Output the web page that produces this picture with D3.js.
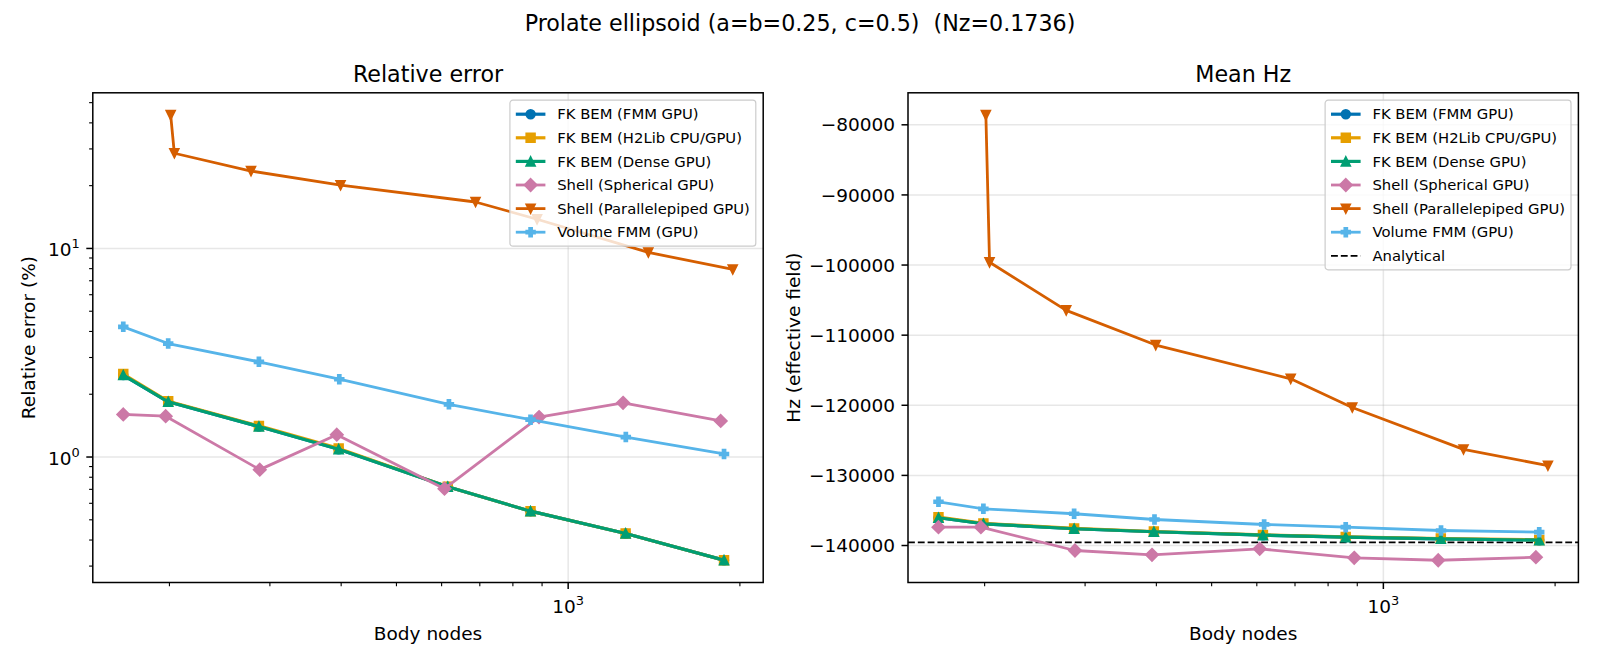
<!DOCTYPE html>
<html>
<head>
<meta charset="utf-8">
<script src="https://cdn.jsdelivr.net/npm/d3@7"></script>
<style>
  body { margin: 0; background: #fff; }
  svg { display: block; font-family: "DejaVu Sans", sans-serif; }
  text { white-space: pre; }
</style>
</head>
<body>
<div id="chart"></div>
<script>
// Node counts per method
const fkNodes = [166, 199, 287, 396, 615, 859, 1261, 1876];
const sphNodes = [166, 197, 288, 393, 607, 889, 1248, 1851];
const parNodes = [201, 204, 278, 399, 688, 882, 1382, 1943];
const volNodes = [166, 199, 287, 397, 618, 859, 1262, 1876];

// Relative error (%)
const fkFmmErr = [2.47, 1.84, 1.40, 1.09, 0.72, 0.55, 0.43, 0.32];
const fkH2Err = [2.50, 1.85, 1.41, 1.10, 0.72, 0.55, 0.43, 0.32];
const fkDenseErr = [2.47, 1.84, 1.40, 1.09, 0.72, 0.55, 0.43, 0.32];
const sphErr = [1.60, 1.57, 0.87, 1.28, 0.705, 1.555, 1.82, 1.49];
const parErr = [43.6, 28.6, 23.5, 20.1, 16.7, 13.8, 9.57, 7.93];
const volErr = [4.21, 3.50, 2.86, 2.36, 1.79, 1.51, 1.247, 1.034];

// Mean Hz (effective field)
const fkFmmHz = [-136040, -136900, -137610, -138040, -138530, -138810, -139040, -139240];
const fkH2Hz = [-135950, -136850, -137560, -138000, -138480, -138770, -139000, -139200];
const fkDenseHz = [-136040, -136900, -137610, -138040, -138530, -138810, -139040, -139240];
const sphHz = [-137390, -137390, -140710, -141330, -140470, -141760, -142100, -141670];
const parHz = [-78610, -99610, -106460, -111410, -116230, -120310, -126290, -128610];
const volHz = [-133760, -134760, -135470, -136290, -137000, -137390, -137860, -138100];
const analyticalHz = -139550;

const seriesNames = ['FK BEM (FMM GPU)', 'FK BEM (H2Lib CPU/GPU)', 'FK BEM (Dense GPU)',
  'Shell (Spherical GPU)', 'Shell (Parallelepiped GPU)', 'Volume FMM (GPU)'];
const seriesColors = ['#0072B2', '#E69F00', '#009E73', '#CC79A7', '#D55E00', '#56B4E9'];
const seriesMarkers = ['o', 's', '^', 'D', 'v', 'P'];
const seriesNodes = [fkNodes, fkNodes, fkNodes, sphNodes, parNodes, volNodes];
const seriesErr = [fkFmmErr, fkH2Err, fkDenseErr, sphErr, parErr, volErr];
const seriesHz = [fkFmmHz, fkH2Hz, fkDenseHz, sphHz, parHz, volHz];
const seriesWidth = [3.2, 3.2, 3.2, 2.8, 2.8, 2.8];

const hzTicks = [-80000, -90000, -100000, -110000, -120000, -130000, -140000];

const W = 1600, H = 667;
const svg = d3.select('#chart').append('svg').attr('width', W).attr('height', H);

const axTop = 92.8, axBottom = 582.5, axW = 670.4;
const panelX = [92.8, 908];
const tickFont = 18.5, legendFont = 14.8, markSize = 8.6;

function logPad(ext) {
  const a = Math.log10(ext[0]), b = Math.log10(ext[1]), m = (b - a) * 0.05;
  return [Math.pow(10, a - m), Math.pow(10, b + m)];
}
function linPad(ext) {
  const m = (ext[1] - ext[0]) * 0.05;
  return [ext[0] - m, ext[1] + m];
}

function markerPath(type, s) {
  const h = s / 2;
  if (type === 'o') return d3.symbol(d3.symbolCircle, Math.PI * h * h)();
  if (type === 's') return `M${-h},${-h}H${h}V${h}H${-h}Z`;
  if (type === '^') return `M0,${-h}L${h},${h}L${-h},${h}Z`;
  if (type === 'v') return `M0,${h}L${h},${-h}L${-h},${-h}Z`;
  if (type === 'D') { const d = h * Math.SQRT2; return `M0,${-d}L${d},0L0,${d}L${-d},0Z`; }
  // filled plus
  const a = s / 6;
  return `M${-a},${-h}H${a}V${-a}H${h}V${a}H${a}V${h}H${-a}V${a}H${-h}V${-a}H${-a}Z`;
}

const allNodes = [].concat(...seriesNodes);
const allErr = [].concat(...seriesErr);
const allHz = [].concat(...seriesHz);

// suptitle
svg.append('text').attr('x', 800).attr('y', 30.5).attr('text-anchor', 'middle')
  .attr('xml:space', 'preserve')
  .attr('font-size', 22.2).text('Prolate ellipsoid (a=b=0.25, c=0.5)  (Nz=0.1736)');

function drawPanel(p) {
  const x0 = panelX[p];
  const g = svg.append('g');
  const x = d3.scaleLog().domain(logPad(d3.extent(allNodes))).range([x0, x0 + axW]);
  const y = p === 0
    ? d3.scaleLog().domain(logPad(d3.extent(allErr))).range([axBottom, axTop])
    : d3.scaleLinear().domain(linPad(d3.extent(allHz))).range([axBottom, axTop]);

  const clipId = 'clip' + p;
  g.append('clipPath').attr('id', clipId).append('rect')
    .attr('x', x0).attr('y', axTop).attr('width', axW).attr('height', axBottom - axTop);

  // ticks
  const xMajor = [1000];
  const xMinor = [];
  [100, 1000].forEach(dec => { for (let k = 2; k <= 9; k++) xMinor.push(k * dec); });
  const xd = x.domain();
  const xMin = xMinor.filter(v => v >= xd[0] && v <= xd[1]);

  let yMajor, yMinor = [];
  if (p === 0) {
    yMajor = [1, 10];
    [0.1, 1, 10].forEach(dec => { for (let k = 2; k <= 9; k++) yMinor.push(k * dec); });
    const yd = y.domain();
    yMinor = yMinor.filter(v => v >= yd[0] && v <= yd[1]);
  } else {
    yMajor = hzTicks;
  }

  // grid
  const grid = g.append('g').attr('stroke', '#b0b0b0').attr('stroke-opacity', 0.3).attr('stroke-width', 1.5);
  xMajor.forEach(v => grid.append('line').attr('x1', x(v)).attr('x2', x(v)).attr('y1', axTop).attr('y2', axBottom));
  yMajor.forEach(v => grid.append('line').attr('x1', x0).attr('x2', x0 + axW).attr('y1', y(v)).attr('y2', y(v)));

  // analytical reference
  if (p === 1) {
    g.append('line').attr('x1', x0).attr('x2', x0 + axW)
      .attr('y1', y(analyticalHz)).attr('y2', y(analyticalHz))
      .attr('stroke', '#000').attr('stroke-width', 1.85).attr('stroke-dasharray', '6.85,2.96');
  }

  // series
  const plot = g.append('g').attr('clip-path', `url(#${clipId})`);
  seriesNames.forEach((name, i) => {
    const vals = p === 0 ? seriesErr[i] : seriesHz[i];
    const pts = seriesNodes[i].map((n, j) => [x(n), y(vals[j])]);
    plot.append('path').attr('d', d3.line()(pts)).attr('fill', 'none')
      .attr('stroke', seriesColors[i]).attr('stroke-width', seriesWidth[i])
      .attr('stroke-linejoin', 'round').attr('stroke-linecap', 'square');
    const mp = markerPath(seriesMarkers[i], markSize);
    pts.forEach(pt => plot.append('path').attr('d', mp)
      .attr('transform', `translate(${pt[0]},${pt[1]})`)
      .attr('fill', seriesColors[i]).attr('stroke', seriesColors[i]).attr('stroke-width', 1.85));
  });

  // spines
  g.append('rect').attr('x', x0).attr('y', axTop).attr('width', axW).attr('height', axBottom - axTop)
    .attr('fill', 'none').attr('stroke', '#000').attr('stroke-width', 1.5);

  // tick marks
  const tk = g.append('g').attr('stroke', '#000').attr('stroke-width', 1.5);
  xMajor.forEach(v => tk.append('line').attr('x1', x(v)).attr('x2', x(v)).attr('y1', axBottom).attr('y2', axBottom + 6.5));
  xMin.forEach(v => tk.append('line').attr('x1', x(v)).attr('x2', x(v)).attr('y1', axBottom).attr('y2', axBottom + 3.7).attr('stroke-width', 1.1));
  yMajor.forEach(v => tk.append('line').attr('x1', x0).attr('x2', x0 - 6.5).attr('y1', y(v)).attr('y2', y(v)));
  yMinor.forEach(v => tk.append('line').attr('x1', x0).attr('x2', x0 - 3.7).attr('y1', y(v)).attr('y2', y(v)).attr('stroke-width', 1.1));

  // x tick labels (10^3)
  xMajor.forEach(v => {
    const t = g.append('text').attr('x', x(v)).attr('y', 613).attr('text-anchor', 'middle').attr('font-size', tickFont);
    t.append('tspan').text('10');
    t.append('tspan').attr('dy', -8).attr('font-size', tickFont * 0.7).text(Math.round(Math.log10(v)));
  });

  // y tick labels
  yMajor.forEach(v => {
    const t = g.append('text').attr('x', x0 - 13).attr('y', y(v) + 8).attr('text-anchor', 'end').attr('font-size', tickFont);
    if (p === 0) {
      t.append('tspan').text('10');
      t.append('tspan').attr('dy', -8).attr('font-size', tickFont * 0.7).text(Math.round(Math.log10(v)));
    } else {
      t.attr('y', y(v) + 6.6).text(String(v).replace('-', '\u2212'));
    }
  });

  // titles and labels
  g.append('text').attr('x', x0 + axW / 2).attr('y', 82).attr('text-anchor', 'middle')
    .attr('font-size', 22.2).text(p === 0 ? 'Relative error' : 'Mean Hz');
  g.append('text').attr('x', x0 + axW / 2).attr('y', 640).attr('text-anchor', 'middle')
    .attr('font-size', tickFont).text('Body nodes');
  const ylx = p === 0 ? 35 : 800;
  g.append('text').attr('transform', `translate(${ylx},${(axTop + axBottom) / 2}) rotate(-90)`)
    .attr('text-anchor', 'middle').attr('font-size', tickFont)
    .text(p === 0 ? 'Relative error (%)' : 'Hz (effective field)');

  // legend
  const entries = seriesNames.map((n, i) => ({ name: n, color: seriesColors[i], marker: seriesMarkers[i], w: seriesWidth[i] }));
  if (p === 1) entries.push({ name: 'Analytical', color: '#000', marker: null, w: 1.85, dash: '6.85,2.96' });
  const pad = 5.9, rowH = 23.6, handleLen = 29.6, textPad = 11.8;
  const lg = g.append('g');
  const box = lg.append('rect');
  const items = lg.append('g');
  let maxW = 0;
  entries.forEach((e, i) => {
    const cy = pad + 8.1 + i * rowH;
    const t = items.append('text').attr('y', cy + 5.3).attr('font-size', legendFont).text(e.name);
    maxW = Math.max(maxW, t.node().getComputedTextLength());
  });
  const boxW = pad * 2 + handleLen + textPad + maxW;
  const boxH = pad * 2 + entries.length * 16.2 + (entries.length - 1) * 7.4;
  const bx = x0 + axW - 7.4 - boxW, by = axTop + 7.4;
  lg.attr('transform', `translate(${bx},${by})`);
  box.attr('width', boxW).attr('height', boxH).attr('rx', 3).attr('fill', '#fff').attr('fill-opacity', 0.8)
    .attr('stroke', '#cccccc').attr('stroke-width', 1.2);
  items.selectAll('text').attr('x', pad + handleLen + textPad);
  entries.forEach((e, i) => {
    const cy = pad + 8.1 + i * rowH;
    items.append('line').attr('x1', pad).attr('x2', pad + handleLen).attr('y1', cy).attr('y2', cy)
      .attr('stroke', e.color).attr('stroke-width', e.w).attr('stroke-dasharray', e.dash || null);
    if (e.marker) {
      items.append('path').attr('d', markerPath(e.marker, markSize))
        .attr('transform', `translate(${pad + handleLen / 2},${cy})`)
        .attr('fill', e.color).attr('stroke', e.color).attr('stroke-width', 1.85);
    }
  });
}

drawPanel(0);
drawPanel(1);
</script>
</body>
</html>
